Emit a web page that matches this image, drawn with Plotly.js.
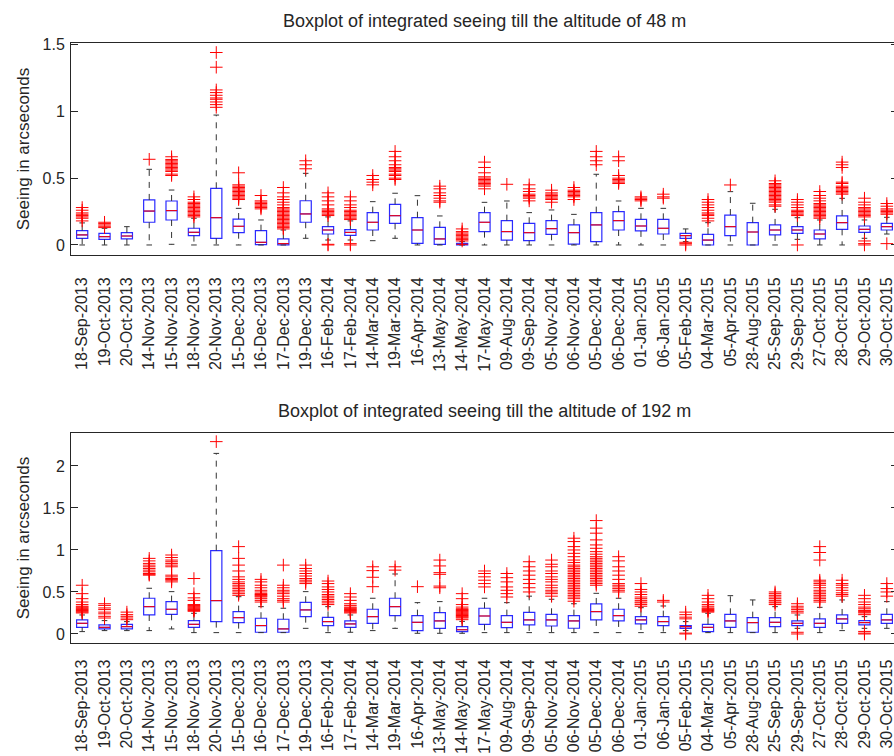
<!DOCTYPE html>
<html><head><meta charset="utf-8">
<script src="https://cdn.plot.ly/plotly-3.0.1.min.js"></script>
<style>html,body{margin:0;padding:0;overflow:hidden;background:#fff}#chart{width:898px;height:756px}</style>
</head><body><div id="chart"></div>
<script>
const dates = ['18-Sep-2013','19-Oct-2013','20-Oct-2013','14-Nov-2013','15-Nov-2013','18-Nov-2013','20-Nov-2013','15-Dec-2013','16-Dec-2013','17-Dec-2013','19-Dec-2013','16-Feb-2014','17-Feb-2014','14-Mar-2014','19-Mar-2014','16-Apr-2014','13-May-2014','14-May-2014','17-May-2014','09-Aug-2014','09-Sep-2014','05-Nov-2014','06-Nov-2014','05-Dec-2014','06-Dec-2014','01-Jan-2015','06-Jan-2015','05-Feb-2015','04-Mar-2015','05-Apr-2015','28-Aug-2015','25-Sep-2015','29-Sep-2015','27-Oct-2015','28-Oct-2015','29-Oct-2015','30-Oct-2015'];

// ---- 48 m ----
const lo48  = [0,0,0,0,0.005,0,0,0,0,0,0.05,0.037,0.037,0.032,0.05,0,0,0,0,0,0,0,0,0,0,0,0,0.025,0,0,0,0,0.042,0,0,0.05,0.082];
const q1_48 = [0.05,0.042,0.045,0.17,0.187,0.07,0.05,0.092,0.002,0,0.17,0.082,0.072,0.112,0.162,0.012,0.005,0,0.1,0.037,0.032,0.08,0.007,0.025,0.112,0.105,0.082,0.05,0,0.07,0,0.075,0.087,0.045,0.117,0.095,0.112];
const med48 = [0.075,0.062,0.067,0.254,0.257,0.095,0.204,0.14,0.02,0.01,0.232,0.112,0.094,0.17,0.219,0.112,0.045,0.005,0.17,0.1,0.092,0.122,0.092,0.15,0.182,0.142,0.125,0.07,0.037,0.137,0.097,0.112,0.112,0.082,0.167,0.117,0.137];
const q3_48 = [0.107,0.087,0.092,0.337,0.329,0.125,0.424,0.194,0.107,0.045,0.331,0.137,0.115,0.242,0.304,0.204,0.132,0.012,0.242,0.182,0.162,0.182,0.15,0.242,0.249,0.192,0.192,0.087,0.08,0.224,0.167,0.15,0.137,0.112,0.217,0.142,0.162];
const hi48  = [0.165,0.125,0.137,0.566,0.411,0.2,0.972,0.274,0.187,0.112,0.536,0.21,0.18,0.324,0.387,0.369,0.217,0.025,0.319,0.329,0.242,0.262,0.229,0.529,0.329,0.274,0.274,0.12,0.167,0.399,0.312,0.267,0.204,0.187,0.349,0.187,0.207];
const out48 = [
 [0.18,0.2,0.21,0.22,0.23,0.24,0.26,0.28],
 [0.13,0.14,0.15,0.16,0.17],
 [],
 [0.641],
 [0.52,0.53,0.55,0.56,0.57,0.58,0.59,0.6,0.61,0.62,0.63,0.64,0.66],
 [0.21,0.22,0.23,0.24,0.25,0.26,0.27,0.28,0.29,0.3,0.31,0.32,0.34,0.36],
 [1.03,1.05,1.07,1.09,1.1,1.12,1.14,1.16,1.33,1.44],
 [0.34,0.35,0.36,0.37,0.38,0.39,0.4,0.41,0.42,0.43,0.44,0.45,0.54],
 [0.27,0.28,0.29,0.3,0.31,0.32,0.33,0.37],
 [0.12,0.13,0.14,0.15,0.16,0.17,0.18,0.19,0.2,0.21,0.22,0.23,0.24,0.25,0.26,0.27,0.28,0.3,0.32,0.34,0.36,0.39,0.43],
 [0.57,0.6,0.63],
 [0,0.005,0.22,0.23,0.24,0.25,0.26,0.27,0.3,0.33,0.36,0.39],
 [0,0.01,0.19,0.2,0.21,0.22,0.23,0.24,0.25,0.26,0.28,0.3,0.33,0.36],
 [0.45,0.47,0.49,0.52],
 [0.49,0.5,0.52,0.53,0.55,0.56,0.57,0.58,0.6,0.63,0.66,0.7],
 [],
 [0.32,0.33,0.35,0.37,0.39,0.42,0.44],
 [0.03,0.04,0.05,0.06,0.07,0.08,0.09,0.1,0.12],
 [0.42,0.44,0.45,0.46,0.47,0.48,0.49,0.5,0.51,0.54,0.58,0.62],
 [0.454],
 [0.33,0.35,0.36,0.37,0.38,0.4,0.42,0.45],
 [0.32,0.34,0.35,0.36,0.37,0.38,0.39,0.41],
 [0.34,0.36,0.37,0.38,0.39,0.4,0.41,0.43],
 [0.6,0.63,0.66,0.7],
 [0.46,0.47,0.48,0.49,0.5,0.52,0.63,0.66],
 [0.33,0.34,0.35,0.36],
 [0.35,0.36,0.38],
 [0,0.01,0.02],
 [0.18,0.2,0.22,0.23,0.24,0.26,0.28,0.3,0.32,0.34],
 [0.449],
 [],
 [0.29,0.3,0.32,0.33,0.34,0.35,0.36,0.37,0.38,0.39,0.4,0.41,0.42,0.43,0.44,0.45,0.46,0.48],
 [0,0.22,0.23,0.24,0.25,0.26,0.28,0.3,0.32,0.34],
 [0.2,0.21,0.22,0.23,0.24,0.25,0.26,0.27,0.28,0.29,0.3,0.31,0.33,0.35,0.37,0.4],
 [0.38,0.39,0.4,0.41,0.42,0.43,0.44,0.46,0.47,0.58,0.6,0.62],
 [0,0.01,0.03,0.21,0.22,0.23,0.24,0.25,0.26,0.27,0.28,0.3,0.32,0.35],
 [0.01,0.23,0.24,0.25,0.26,0.27,0.29,0.31]
];

// ---- 192 m ----
const lo192  = [0.028,0.04,0.04,0.04,0.06,0.016,0.016,0.016,0.016,0.016,0.067,0.016,0.02,0.04,0.067,0.008,0.008,0.008,0.016,0.016,0.016,0.016,0.016,0.016,0.016,0.016,0.016,0.04,0.016,0.016,0.016,0.016,0.067,0.016,0.04,0.067,0.067];
const q1_192 = [0.079,0.06,0.06,0.226,0.234,0.079,0.147,0.135,0.02,0.02,0.206,0.099,0.079,0.127,0.218,0.04,0.067,0.028,0.115,0.075,0.107,0.095,0.068,0.167,0.155,0.119,0.099,0.067,0.028,0.079,0.02,0.087,0.099,0.079,0.127,0.107,0.127];
const med192 = [0.127,0.079,0.087,0.325,0.294,0.115,0.397,0.194,0.1,0.06,0.286,0.147,0.119,0.206,0.325,0.139,0.155,0.05,0.214,0.139,0.167,0.167,0.155,0.266,0.218,0.167,0.147,0.087,0.079,0.155,0.135,0.139,0.127,0.127,0.179,0.135,0.167];
const q3_192 = [0.167,0.107,0.115,0.425,0.385,0.159,0.992,0.266,0.187,0.175,0.377,0.198,0.155,0.294,0.425,0.218,0.254,0.087,0.306,0.218,0.258,0.234,0.218,0.357,0.294,0.206,0.206,0.099,0.115,0.234,0.194,0.194,0.155,0.179,0.226,0.159,0.234];
const hi192  = [0.226,0.159,0.147,0.544,0.504,0.246,2.15,0.444,0.325,0.306,0.504,0.325,0.226,0.425,0.714,0.373,0.385,0.15,0.425,0.373,0.45,0.413,0.36,0.484,0.425,0.313,0.333,0.147,0.246,0.456,0.405,0.325,0.226,0.317,0.405,0.206,0.385];
const out192 = [
 [0.25,0.26,0.27,0.28,0.29,0.3,0.31,0.32,0.33,0.35,0.38,0.42,0.48,0.58],
 [0.19,0.21,0.24,0.26,0.29,0.31,0.34,0.36],
 [0.17,0.19,0.21,0.23,0.26],
 [0.7,0.71,0.72,0.74,0.76,0.78,0.8,0.82,0.84,0.87,0.9],
 [0.62,0.64,0.65,0.66,0.68,0.7,0.8,0.82,0.84,0.86,0.88,0.91,0.94],
 [0.27,0.28,0.29,0.3,0.31,0.32,0.33,0.34,0.35,0.4,0.43,0.48,0.66],
 [2.29],
 [0.46,0.48,0.5,0.52,0.54,0.56,0.58,0.6,0.62,0.65,0.68,0.75,0.82,0.9,1.04],
 [0.38,0.4,0.42,0.44,0.45,0.46,0.47,0.48,0.5,0.52,0.55,0.58,0.62,0.65],
 [0.38,0.4,0.42,0.45,0.48,0.5,0.52,0.55,0.58,0.82],
 [0.6,0.62,0.64,0.66,0.69,0.72,0.75,0.78,0.82],
 [0.35,0.37,0.39,0.41,0.43,0.45,0.47,0.5,0.53,0.56,0.6,0.63],
 [0.25,0.26,0.27,0.28,0.29,0.3,0.31,0.32,0.34,0.36,0.4,0.44,0.48],
 [0.563,0.675,0.754,0.8],
 [0.76,0.8],
 [0.563],
 [0.55,0.57,0.71,0.73,0.81,0.88],
 [0.17,0.19,0.2,0.21,0.22,0.23,0.24,0.25,0.26,0.27,0.28,0.29,0.3,0.32,0.35,0.42,0.48],
 [0.56,0.6,0.64,0.68,0.72,0.75],
 [0.44,0.48,0.52,0.56,0.62,0.67,0.72],
 [0.5,0.55,0.6,0.65,0.7,0.75,0.8,0.86],
 [0.45,0.48,0.5,0.52,0.55,0.58,0.62,0.65,0.68,0.72,0.75,0.8,0.83,0.88],
 [0.39,0.42,0.44,0.46,0.48,0.5,0.52,0.54,0.56,0.58,0.6,0.62,0.64,0.66,0.68,0.7,0.72,0.74,0.76,0.78,0.8,0.82,0.85,0.88,0.92,0.96,1.0,1.04,1.1,1.14],
 [0.58,0.6,0.62,0.64,0.66,0.68,0.7,0.72,0.74,0.76,0.78,0.8,0.82,0.84,0.86,0.88,0.9,0.92,0.95,0.98,1.02,1.06,1.12,1.2,1.26,1.35],
 [0.5,0.52,0.54,0.56,0.58,0.6,0.65,0.7,0.75,0.8,0.87,0.92],
 [0.33,0.35,0.37,0.38,0.4,0.42,0.44,0.47,0.5,0.53,0.6],
 [0.38,0.4],
 [0,0.01,0.18,0.2,0.23,0.26],
 [0.26,0.27,0.28,0.29,0.3,0.31,0.33,0.35,0.38,0.42,0.46],
 [],
 [],
 [0.35,0.37,0.38,0.4,0.42,0.44,0.46,0.48,0.5],
 [0,0.02,0.25,0.27,0.29,0.31,0.33,0.36],
 [0.38,0.4,0.42,0.44,0.46,0.48,0.5,0.52,0.55,0.58,0.6,0.62,0.64,0.88,0.97,1.04],
 [0.45,0.47,0.49,0.52,0.55,0.58,0.6,0.64],
 [0,0.01,0.03,0.23,0.25,0.26,0.27,0.28,0.3,0.32,0.35,0.38,0.42,0.46],
 [0.45,0.5,0.54,0.6]
];

const titles = ['Boxplot of integrated seeing till the altitude of 48 m','Boxplot of integrated seeing till the altitude of 192 m'];
const yLabel = 'Seeing in arcseconds';

const INK = '#262626';
const FONT = 'Liberation Sans, Arial, sans-serif';
const idx = dates.map((d, i) => i);

function buildTraces(lo, q1, med, q3, hi, out, xa, ya) {
  const wx = [], wy = [], cx = [], cy = [], mx = [], my = [], ox = [], oy = [];
  idx.forEach(i => {
    wx.push(i, i, null, i, i, null);
    wy.push(q3[i], hi[i], null, q1[i], lo[i], null);
    cx.push(i - 0.125, i + 0.125, null, i - 0.125, i + 0.125, null);
    cy.push(hi[i], hi[i], null, lo[i], lo[i], null);
    mx.push(i - 0.25, i + 0.25, null);
    my.push(med[i], med[i], null);
    out[i].forEach(v => { ox.push(i); oy.push(v); });
  });
  const common = {xaxis: xa, yaxis: ya, showlegend: false, hoverinfo: 'skip'};
  return [
    Object.assign({type: 'box', x: idx, q1: q1, median: med, q3: q3, lowerfence: q1, upperfence: q3,
      width: 0.5, line: {color: '#2a2aff', width: 1.2}, fillcolor: 'rgba(0,0,0,0)', boxpoints: false}, common),
    Object.assign({type: 'scatter', mode: 'lines', x: wx, y: wy, line: {color: '#333', width: 1, dash: '6px,6px'}}, common),
    Object.assign({type: 'scatter', mode: 'lines', x: cx, y: cy, line: {color: '#333', width: 1}}, common),
    Object.assign({type: 'scatter', mode: 'lines', x: mx, y: my, line: {color: '#ff0000', width: 1}}, common),
    Object.assign({type: 'scatter', mode: 'markers', x: ox, y: oy,
      marker: {symbol: 'cross-thin', size: 9, color: '#ff0000', line: {color: '#ff0000', width: 1}}}, common)
  ];
}

const data = [].concat(
  buildTraces(lo48, q1_48, med48, q3_48, hi48, out48, 'x', 'y'),
  buildTraces(lo192, q1_192, med192, q3_192, hi192, out192, 'x2', 'y2')
);

function xAxis(anchor, standoff) {
  return {anchor: anchor, domain: [0, 1], range: [-0.5, 36.5], tickmode: 'array', tickvals: idx, ticktext: dates,
    tickangle: -90, ticks: '', showline: true, mirror: true, linecolor: INK, linewidth: 1,
    showgrid: false, zeroline: false, automargin: false, ticklabelstandoff: standoff,
    tickfont: {family: FONT, size: 16, color: INK}};
}
function yAxis(anchor, domain, range, dtick) {
  return {anchor: anchor, domain: domain, range: range, dtick: dtick, tick0: 0, ticks: 'inside', ticklen: 7,
    tickcolor: INK, showline: true, mirror: 'ticks', linecolor: INK, linewidth: 1,
    showgrid: false, zeroline: false, automargin: false, ticklabelstandoff: 2,
    tickfont: {family: FONT, size: 16, color: INK},
    title: {text: yLabel, standoff: 8, font: {family: FONT, size: 17, color: INK}}};
}

const layout = {
  width: 898, height: 756,
  margin: {l: 71, r: 0, t: 0, b: 0},
  paper_bgcolor: '#fff', plot_bgcolor: '#fff',
  showlegend: false,
  xaxis: xAxis('y', 15),
  yaxis: yAxis('x', [0.6627, 0.9431], [-0.075, 1.511], 0.5),
  xaxis2: xAxis('y2', 9),
  yaxis2: yAxis('x2', [0.1491, 0.4276], [-0.111, 2.396], 0.5),
  annotations: [
    {text: titles[0], xref: 'paper', yref: 'paper', x: 0.5, y: 1 - 21 / 756, xanchor: 'center', yanchor: 'middle',
     showarrow: false, font: {family: FONT, size: 18, color: INK}},
    {text: titles[1], xref: 'paper', yref: 'paper', x: 0.5, y: 1 - 411 / 756, xanchor: 'center', yanchor: 'middle',
     showarrow: false, font: {family: FONT, size: 18, color: INK}}
  ]
};

Plotly.newPlot('chart', data, layout, {displayModeBar: false, staticPlot: true});
</script>
</body></html>
